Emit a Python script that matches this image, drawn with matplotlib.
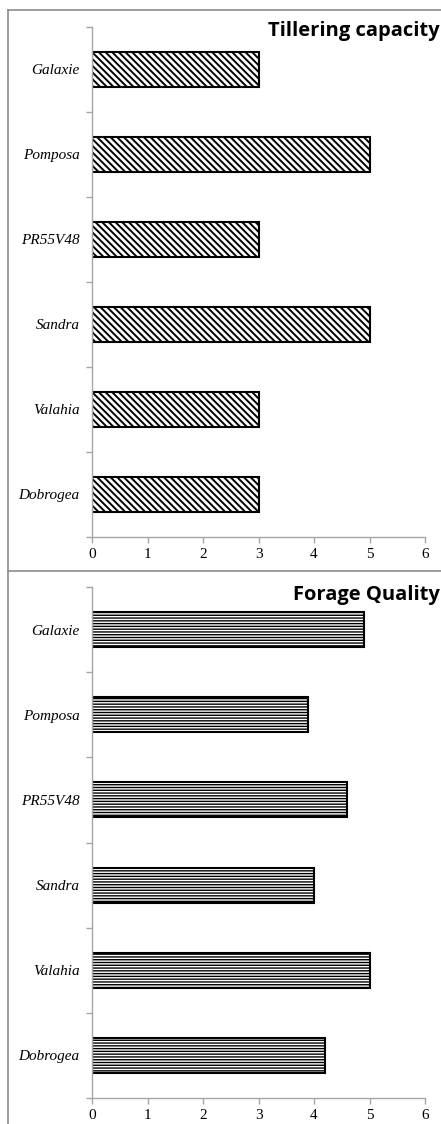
import matplotlib
matplotlib.use("Agg")
import matplotlib.pyplot as plt
from matplotlib.lines import Line2D

varieties = ["Galaxie", "Pomposa", "PR55V48", "Sandra", "Valahia", "Dobrogea"]
tillering = [3, 5, 3, 5, 3, 3]
forage = [4.9, 3.9, 4.6, 4.0, 5.0, 4.2]
x_ticks = [0, 1, 2, 3, 4, 5, 6]

W, H = 441, 1124
DPI = 100
plt.rcParams['hatch.linewidth'] = 1.1
fig = plt.figure(figsize=(W / DPI, H / DPI), dpi=DPI)

AX_COLOR = "#a6a6a6"
BORDER = "#8c8c8c"

def fx(px):
    return px / W

def fy(py):
    return 1 - py / H

def panel(top_px, bottom_px, values, hatch, hatch_lw, title, title_y):
    ax = fig.add_axes([fx(92), fy(bottom_px), fx(425) - fx(92), fy(top_px) - fy(bottom_px)])
    pos = list(range(len(varieties)))
    with plt.rc_context({'hatch.linewidth': hatch_lw}):
        ax.barh(pos, values, height=0.41, color="white", edgecolor="black",
                linewidth=1.5, hatch=hatch)
    ax.set_ylim(len(varieties) - 0.5, -0.5)
    ax.set_xlim(0, 6)
    ax.set_xticks(x_ticks)
    ax.set_xticklabels([str(t) for t in x_ticks], fontfamily="Liberation Serif", fontsize=11)
    ax.set_yticks(pos)
    ax.set_yticklabels(varieties, fontfamily="Liberation Serif", fontstyle="italic", fontsize=11)
    ax.set_yticks([p - 0.5 for p in pos] + [len(pos) - 0.5], minor=True)
    ax.tick_params(axis="y", which="major", length=0, pad=9)
    ax.tick_params(axis="y", which="minor", length=4, color=AX_COLOR, width=1)
    ax.tick_params(axis="x", which="major", length=4, color=AX_COLOR, width=1, pad=4)
    for s in ["top", "right"]:
        ax.spines[s].set_visible(False)
    for s in ["left", "bottom"]:
        ax.spines[s].set_color(AX_COLOR)
        ax.spines[s].set_linewidth(1)
    fig.text(fx(440), fy(title_y), title, ha="right", va="baseline",
             fontfamily="Open Sans", fontweight="bold", fontsize=14.5)
    return ax

panel(27, 537, tillering, "\\\\\\\\\\", 1.4, "Tillering capacity", 36)
panel(587, 1098, forage, "------", 1.0, "Forage Quality", 600)

# outer frame lines
fig.add_artist(Line2D([fx(8), 1], [fy(10), fy(10)], color=BORDER, linewidth=1.2))
fig.add_artist(Line2D([fx(8), fx(8)], [fy(10), 0], color=BORDER, linewidth=1.2))
fig.add_artist(Line2D([fx(8), 1], [fy(571), fy(571)], color=BORDER, linewidth=1.2))

fig.savefig("out.png", dpi=DPI)
